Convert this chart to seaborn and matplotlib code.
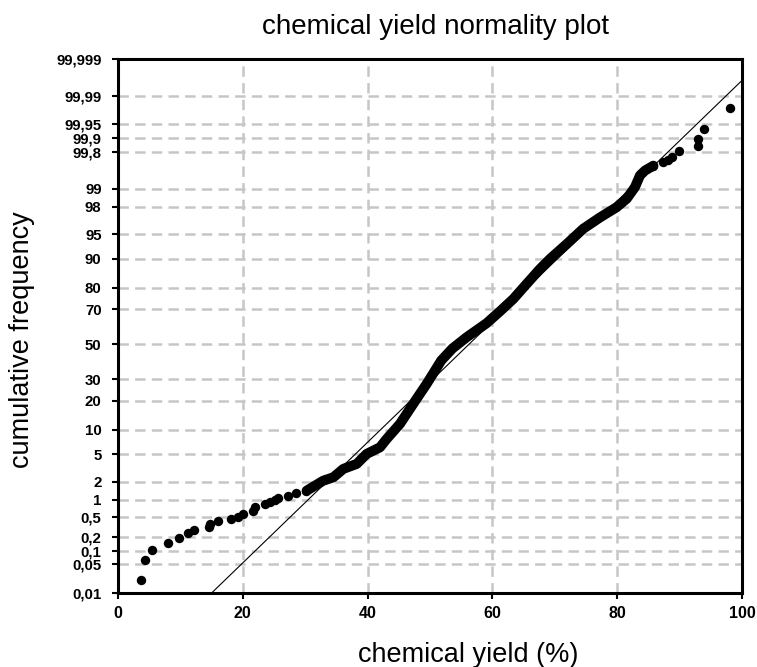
import numpy as np
import matplotlib
matplotlib.use("Agg")
import matplotlib.pyplot as plt
import seaborn as sns
import pandas as pd
from statistics import NormalDist

# ---------------- data ----------------
# sparse low tail: chemical yield (%) and cumulative frequency (%)
low_yield = [3.69, 4.28, 5.40, 7.96, 9.78, 11.2, 12.18, 14.6, 14.74, 16.08,
             18.06, 19.3, 20.1, 21.6, 21.96, 23.56, 24.36, 25.16, 25.7, 27.3,
             28.6, 30.2]
low_cum = [0.0216, 0.064, 0.107, 0.151, 0.191, 0.239, 0.274, 0.32, 0.36, 0.405,
           0.45, 0.498, 0.559, 0.624, 0.739, 0.847, 0.904, 0.996, 1.078, 1.18,
           1.29, 1.43]

# dense central band (traced centre of the point cloud)
band_yield = [30.24, 32.90, 34.50, 36.11, 38.25, 39.86, 41.99, 43.06, 45.19,
              47.87, 49.47, 50.0, 51.80, 53.6, 55.88, 59.09, 61.22, 63.35,
              65.50, 67.63, 69.23, 71.91, 74.57, 77.24, 79.92, 81.52, 82.85,
              83.65, 84.46, 85.79]
band_cum = [1.43, 2.07, 2.33, 3.12, 3.68, 5.06, 6.17, 7.85, 11.7,
            20.8, 27.7, 30.4, 40.4, 47.5, 54.2, 62.4, 68.9, 75.1,
            81.7, 87.0, 89.9, 93.3, 95.8, 97.1, 97.98, 98.52, 99.06,
            99.42, 99.53, 99.62]

# sparse high tail
high_yield = [85.79, 87.39, 88.19, 88.73, 89.90, 92.90, 92.90, 93.96, 98.08]
high_cum = [99.62, 99.68, 99.70, 99.742, 99.81, 99.85, 99.89, 99.937, 99.979]

# fitted normal line (end points)
fit_yield = [15.0, 100.0]
fit_cum = [0.01, 99.996]

y_ticks = [0.01, 0.05, 0.1, 0.2, 0.5, 1, 2, 5, 10, 20, 30, 50, 70, 80, 90,
           95, 98, 99, 99.8, 99.9, 99.95, 99.99, 99.999]
y_tick_labels = ["0,01", "0,05", "0,1", "0,2", "0,5", "1", "2", "5", "10", "20",
                 "30", "50", "70", "80", "90", "95", "98", "99", "99,8", "99,9",
                 "99,95", "99,99", "99,999"]
x_ticks = [0, 20, 40, 60, 80, 100]

title = "chemical yield normality plot"
x_label = "chemical yield (%)"
y_label = "cumulative frequency"

# ---------------- probability scale ----------------
_nd = NormalDist()
_ppf = np.vectorize(lambda q: _nd.inv_cdf(q) if np.isfinite(q) else np.nan, otypes=[float])
_cdf = np.vectorize(lambda z: _nd.cdf(z) if np.isfinite(z) else np.nan, otypes=[float])


def fwd(p):
    q = np.clip(np.asarray(p, dtype=float) / 100.0, 1e-12, 1 - 1e-12)
    return _ppf(q)


def inv(z):
    return _cdf(np.asarray(z, dtype=float)) * 100.0


# ---------------- style ----------------
sns.set_theme(style="white")
plt.rcParams["font.family"] = ["Liberation Sans", "DejaVu Sans"]
plt.rcParams["lines.scale_dashes"] = False

fig = plt.figure(figsize=(7.57, 6.67), dpi=100)
ax = fig.add_axes([118 / 757, 1 - 593 / 667, (742 - 118) / 757, (593 - 59) / 667])
ax.set_yscale("function", functions=(fwd, inv))

low_df = pd.DataFrame({"yield": low_yield, "cum": low_cum})
band_df = pd.DataFrame({"yield": band_yield, "cum": band_cum})
high_df = pd.DataFrame({"yield": high_yield, "cum": high_cum})
fit_df = pd.DataFrame({"yield": fit_yield, "cum": fit_cum})

sns.lineplot(data=band_df, x="yield", y="cum", ax=ax, sort=False, estimator=None,
             color="black", linewidth=7.2, solid_capstyle="round",
             solid_joinstyle="round", zorder=3)
sns.scatterplot(data=low_df, x="yield", y="cum", ax=ax, color="black", s=46,
                edgecolor="black", linewidth=0, zorder=4)
sns.scatterplot(data=high_df, x="yield", y="cum", ax=ax, color="black", s=46,
                edgecolor="black", linewidth=0, zorder=4)
sns.lineplot(data=fit_df, x="yield", y="cum", ax=ax, color="black",
             linewidth=0.8, zorder=5)

ax.set_xlim(0, 100)
ax.set_ylim(0.01, 99.999)
ax.set_xticks(x_ticks)
ax.set_xticklabels([str(t) for t in x_ticks])
ax.set_yticks(y_ticks)
ax.set_yticklabels(y_tick_labels)
ax.minorticks_off()

ax.grid(True, color="#c6c6c6", linewidth=1.8, linestyle=(0, (7.5, 4.5)))
ax.set_axisbelow(True)
for sp in ax.spines.values():
    sp.set_visible(True)
    sp.set_color("black")
    sp.set_linewidth(2.2)

ax.tick_params(axis="y", which="major", direction="out", length=4.3, width=1.5,
               color="black", labelsize=10.8, pad=7.5, left=True)
ax.tick_params(axis="x", which="major", direction="out", length=4, width=1.5,
               color="black", labelsize=11.5, pad=5, bottom=True)
for lab in ax.get_xticklabels() + ax.get_yticklabels():
    lab.set_fontweight("bold")
    lab.set_color("black")

ax.set_xlabel("")
ax.set_ylabel("")
fig.text(435 / 757, 1 - 27 / 667, title, ha="center", va="center", fontsize=20, color="black")
fig.text(468 / 757, 1 - 655 / 667, x_label, ha="center", va="center", fontsize=19.5, color="black")
fig.text(22 / 757, 1 - 340 / 667, y_label, ha="center", va="center", rotation=90,
         fontsize=19.5, color="black")

fig.savefig("out.png", dpi=100)
